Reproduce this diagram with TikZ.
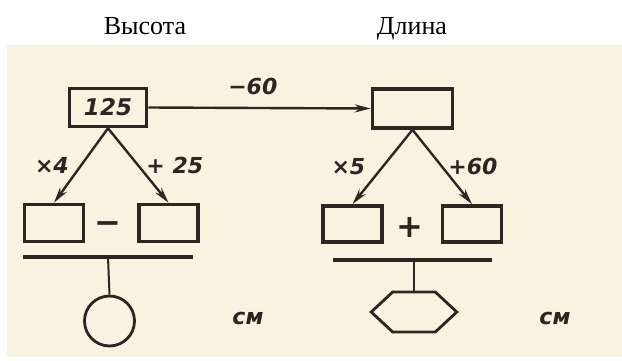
\documentclass[tikz,border=0pt]{standalone}
\usepackage{fontspec}
\setmainfont{Liberation Serif}
\newfontfamily\drawfont{DejaVu Sans}
\usetikzlibrary{shapes.geometric, arrows.meta, positioning}
\definecolor{paper}{HTML}{F6F3E1}
\definecolor{ink}{HTML}{2B2622}

\begin{document}
\begin{tikzpicture}[x=1pt, y=-1pt,
        box/.style={rectangle, draw=ink, line width=3.6pt, minimum width=59pt,
                    minimum height=37pt, inner sep=0pt,
                    font=\drawfont\bfseries\itshape\fontsize{23}{25}\selectfont, text=ink},
        arr/.style={-{Stealth[length=16pt, width=8pt]}, line width=2.4pt, ink},
        lbl/.style={font=\drawfont\bfseries\itshape\fontsize{22}{24}\selectfont,
                    text=ink, inner sep=0pt},
        op/.style={font=\drawfont\bfseries\fontsize{32}{34}\selectfont, text=ink, inner sep=0pt},
        bar/.style={line width=3.6pt, ink},
        stem/.style={line width=2pt, ink},
        head/.style={font=\fontsize{26}{28}\selectfont, anchor=base}]
  \useasboundingbox (0,0) rectangle (622,361);
  \fill[paper] (7,45) rectangle (622,357);
  \node[head] (thigh) at (145,35) {Высота};
  \node[head] (tlen) at (412,35) {Длина};
  % height
  \node[box, minimum width=77pt, minimum height=38pt] (h0) at (108,107.5) {125};
  \node[box] (h1) at (54,223) {};
  \node[box] (h2) at (168.5,223) {};
  \node[op] (hminus) at (108,228) {−};
  \coordinate (hbarW) at (23,257);
  \coordinate (hbarE) at (193,257);
  \coordinate (hbar) at (108,257);
  \node[circle, draw=ink, line width=2.8pt, minimum size=50pt] (hres) at (109.5,321) {};
  \node[lbl] (hcm) at (248,318) {см};
  % length
  \node[box, minimum width=80pt, minimum height=39pt] (l0) at (412.5,108.5) {};
  \node[box, minimum height=36pt] (l1) at (352.5,224) {};
  \node[box, minimum height=36pt] (l2) at (472,224) {};
  \node[op] (lplus) at (410,227) {+};
  \coordinate (lbarW) at (333,260);
  \coordinate (lbarE) at (492,260);
  \coordinate (lbar) at (414,260);
  \node[regular polygon, regular polygon sides=6, draw=ink, line width=2.8pt,
        minimum size=46pt, xscale=1.86, transform shape] (lres) at (414,312) {};
  \node[lbl] (lcm) at (555,318) {см};
  % connectors
  \draw[arr] (h0.east) -- node[lbl, pos=0.47, above=12pt] {−60} (l0.west);
  \draw[arr] (h0.south) -- node[lbl, left=11pt] {×4} (h1.north);
  \draw[arr] (h0.south) -- node[lbl, right=7pt] {+ 25} (h2.north);
  \draw[arr] (l0.south) -- node[lbl, left=16pt] {×5} (l1.north);
  \draw[arr] (l0.south) -- node[lbl, right=5pt] {+60} (l2.north);
  \draw[bar] (hbarW) -- (hbarE);
  \draw[bar] (lbarW) -- (lbarE);
  \draw[stem] (hbar) -- (hres.north);
  \draw[stem] (lbar) -- (lres.north);
\end{tikzpicture}
\end{document}
